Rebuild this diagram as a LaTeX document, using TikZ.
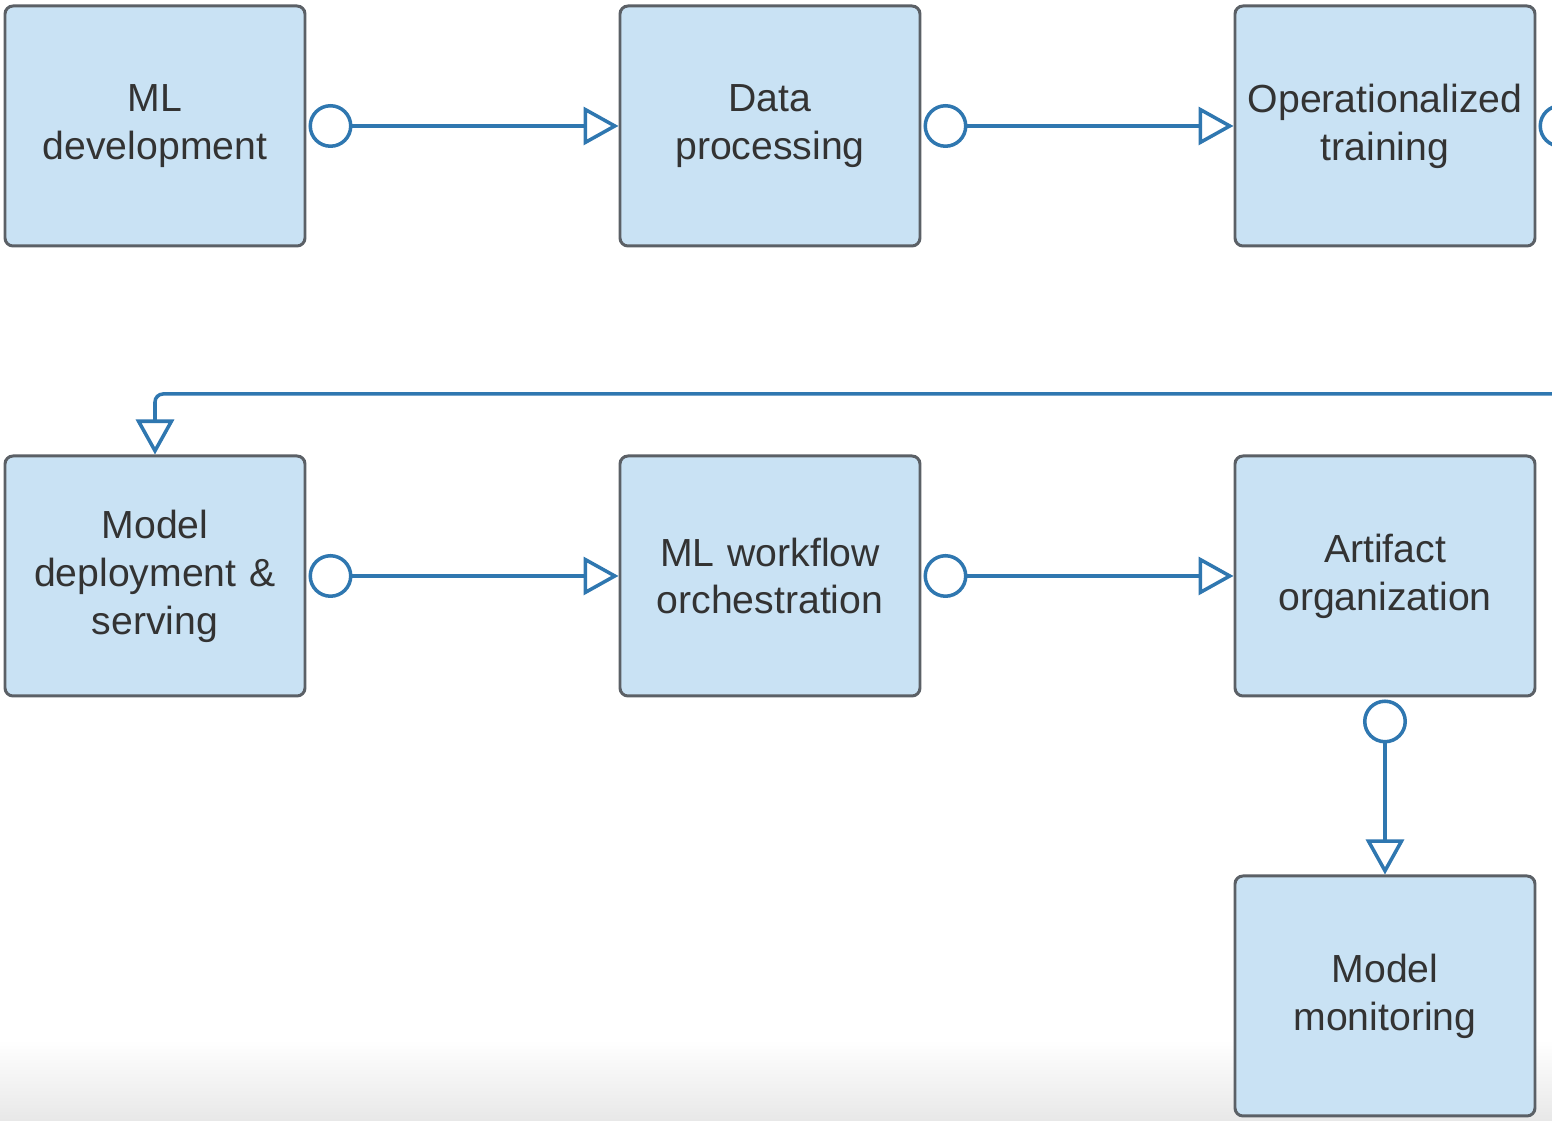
\documentclass[tikz,border=0pt]{standalone}
\usepackage{fontspec}
\setmainfont{Liberation Sans}
\usetikzlibrary{positioning, arrows.meta}
\definecolor{boxfill}{HTML}{C9E2F4}
\definecolor{boxline}{HTML}{5B6066}
\definecolor{flowblue}{HTML}{2F77B0}
\definecolor{txtgrey}{HTML}{333333}

\begin{document}
\begin{tikzpicture}[
  stage/.style={draw=boxline, fill=boxfill, line width=1.7pt, rounded corners=0.16cm,
    minimum width=6cm, minimum height=4.8cm, text width=5.8cm, align=center,
    text=txtgrey, font=\fontsize{22.3}{27.3}\selectfont, inner sep=0pt},
  flow/.style={draw=flowblue, line width=2pt,
    {Circle[open, fill=white, length=0.88cm]}-{Triangle[open, fill=white, length=0.7cm, width=0.76cm]},
    shorten <=0.04cm}
]

% page size and faint grey fade at the foot
\useasboundingbox (0,0) rectangle (31.04,22.4);
\clip (0,0) rectangle (31.04,22.4);
\shade[top color=white, bottom color=black!9] (0,0) rectangle (31.04,1.6);

% --- top row ---
\node[stage] (mldev) at (3.1,19.88) {ML\\development};
\node[stage, right=6.24cm of mldev] (dataproc) {Data\\processing};
\node[stage, right=6.24cm of dataproc] (optrain) {Operationalized\\training};

% --- middle row ---
\node[stage, below=4.14cm of mldev] (deploy) {Model\\deployment \&\\serving};
\node[stage, right=6.24cm of deploy] (orch) {ML workflow\\orchestration};
\node[stage, right=6.24cm of orch] (artifact) {Artifact\\organization};

% --- bottom ---
\node[stage, below=3.54cm of artifact] (monitor) {Model\\monitoring};

% --- connectors ---
\draw[flow] (mldev) -- (dataproc);
\draw[flow] (dataproc) -- (optrain);
\coordinate (wrap) at (32.6,14.52);
\draw[flow, rounded corners=0.16cm] (optrain.east) -| (wrap) -| (deploy.north);
\draw[flow] (deploy) -- (orch);
\draw[flow] (orch) -- (artifact);
\draw[flow] (artifact) -- (monitor);

\end{tikzpicture}
\end{document}
